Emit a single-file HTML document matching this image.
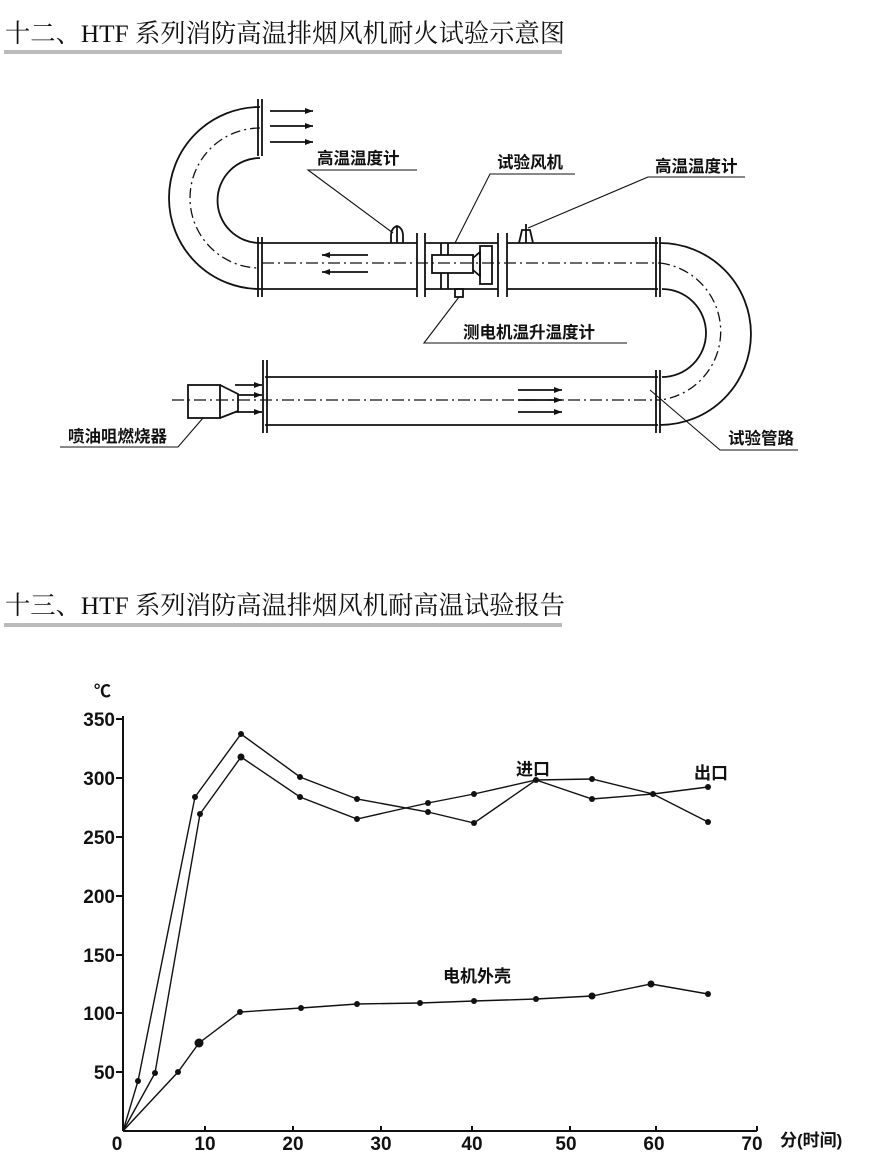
<!DOCTYPE html>
<html><head><meta charset="utf-8"><style>
html,body{margin:0;padding:0;background:#fff;}
body{width:878px;height:1175px;position:relative;overflow:hidden;}
svg{position:absolute;left:0;top:0;}
.t{font-family:"Liberation Serif","Noto Serif CJK SC",serif;font-size:25.3px;fill:#111;}
.c{font-family:"Liberation Sans","Noto Sans CJK SC",sans-serif;font-size:16.5px;font-weight:bold;fill:#111;}
.n{font-family:"Liberation Sans","Noto Sans CJK SC",sans-serif;font-size:19px;font-weight:bold;fill:#111;}
</style></head><body>
<svg width="878" height="1175" viewBox="0 0 878 1175" xmlns="http://www.w3.org/2000/svg">
<defs><marker id="ah" markerWidth="8" markerHeight="6" refX="8" refY="3" orient="auto" markerUnits="userSpaceOnUse"><path d="M0,0 L8,3 L0,6 z" fill="#111"/></marker></defs>
<text class="t" x="5" y="42">十二、HTF 系列消防高温排烟风机耐火试验示意图</text>
<rect x="4" y="50" width="558" height="4" fill="#bbb"/>
<text class="t" x="5" y="614">十三、HTF 系列消防高温排烟风机耐高温试验报告</text>
<rect x="4" y="623" width="558" height="4" fill="#bbb"/>

<g stroke="#111" stroke-width="1.8" fill="none">
<path d="M260,107 A91,91 0 0 0 260,289"/>
<path d="M260,158 A42,42 0 0 0 260,243"/>
<path d="M260,128 A70,70 0 0 0 260,268" stroke-dasharray="10,4,2,4" stroke-width="1.3"/>
<line x1="258" y1="99" x2="258" y2="156"/><line x1="262" y1="99" x2="262" y2="156"/>
<line x1="260" y1="243" x2="417" y2="243"/><line x1="260" y1="289" x2="417" y2="289"/>
<line x1="258" y1="237" x2="258" y2="297"/><line x1="262" y1="237" x2="262" y2="297"/>
<line x1="417" y1="233" x2="417" y2="297"/><line x1="425" y1="233" x2="425" y2="297"/>
<line x1="425" y1="243" x2="498" y2="243"/><line x1="425" y1="289" x2="498" y2="289"/>
<line x1="498" y1="233" x2="498" y2="297"/><line x1="507" y1="233" x2="507" y2="297"/>
<line x1="507" y1="243" x2="658" y2="243"/><line x1="507" y1="289" x2="658" y2="289"/>
<line x1="656" y1="237" x2="656" y2="297"/><line x1="660" y1="237" x2="660" y2="297"/>
<line x1="441" y1="243" x2="441" y2="289"/><line x1="448" y1="243" x2="448" y2="289"/>
<rect x="432" y="255" width="41" height="18" fill="#fff"/>
<path d="M473,258 L480,252 L480,276 L473,270"/>
<rect x="480" y="246" width="12" height="38"/>
<rect x="455" y="289" width="8" height="8"/>
<path d="M391,243 L391,236 Q391,228 397,226 Q403,228 403,236 L403,243"/>
<line x1="397" y1="226" x2="397" y2="243"/>
<path d="M519,243 L522,230 L530,230 L533,243"/>
<line x1="526" y1="224" x2="526" y2="243"/>
<path d="M660,243 A91,91 0 0 1 660,425"/>
<path d="M662,289 A44,44 0 0 1 662,377"/>
<path d="M660,263 A69,69 0 0 1 660,400" stroke-dasharray="10,4,2,4" stroke-width="1.3"/>
<line x1="265" y1="377" x2="658" y2="377"/><line x1="265" y1="425" x2="658" y2="425"/>
<line x1="263" y1="360" x2="263" y2="433"/><line x1="267" y1="360" x2="267" y2="433"/>
<line x1="656" y1="370" x2="656" y2="433"/><line x1="660" y1="370" x2="660" y2="433"/>
<rect x="188" y="385" width="32" height="33"/>
<path d="M220,385 L238,394 L238,411 L220,418"/>
</g>
<g stroke="#111" stroke-width="1.3" stroke-dasharray="12,4,2,4" fill="none">
<line x1="262" y1="263" x2="660" y2="263"/>
<line x1="172" y1="400" x2="660" y2="400"/>
</g>
<g stroke="#111" stroke-width="1.8" marker-end="url(#ah)">
<line x1="270" y1="111" x2="313" y2="111"/><line x1="270" y1="126" x2="313" y2="126"/><line x1="270" y1="142" x2="313" y2="142"/>
<line x1="368" y1="255" x2="322" y2="255"/><line x1="368" y1="272" x2="322" y2="272"/>
<line x1="518" y1="390" x2="562" y2="390"/><line x1="518" y1="400" x2="562" y2="400"/><line x1="518" y1="412" x2="562" y2="412"/>
<line x1="235" y1="385" x2="262" y2="385"/><line x1="238" y1="395" x2="262" y2="395"/><line x1="235" y1="412" x2="262" y2="412"/>
</g>
<g stroke="#111" stroke-width="1.1" fill="none">
<polyline points="417,170 308,170 393,233"/>
<polyline points="575,174 490,174 455,243"/>
<polyline points="745,177 648,177 528,228"/>
<polyline points="627,343 424,343 459,297"/>
<polyline points="60,447 178,447 203,418"/>
<polyline points="798,450 720,450 650,390"/>
</g>
<g class="c">
<text x="317" y="164">高温温度计</text>
<text x="497" y="168">试验风机</text>
<text x="655" y="172">高温温度计</text>
<text x="463" y="338">测电机温升温度计</text>
<text x="68" y="442">喷油咀燃烧器</text>
<text x="728" y="444">试验管路</text>
</g>

<g stroke="#111" stroke-width="2" fill="none">
<line x1="123" y1="716" x2="123" y2="1131"/>
<line x1="123" y1="1131" x2="757" y2="1131"/>
<line x1="116" y1="719" x2="123" y2="719"/><line x1="116" y1="778" x2="123" y2="778"/><line x1="116" y1="837" x2="123" y2="837"/><line x1="116" y1="896" x2="123" y2="896"/><line x1="116" y1="955" x2="123" y2="955"/><line x1="116" y1="1013" x2="123" y2="1013"/><line x1="116" y1="1072" x2="123" y2="1072"/>
<line x1="205" y1="1131" x2="205" y2="1126"/><line x1="293" y1="1131" x2="293" y2="1126"/><line x1="381" y1="1131" x2="381" y2="1126"/><line x1="472" y1="1131" x2="472" y2="1126"/><line x1="570" y1="1131" x2="570" y2="1126"/><line x1="656" y1="1131" x2="656" y2="1126"/><line x1="757" y1="1131" x2="757" y2="1126"/>
</g>
<g stroke="#111" stroke-width="1.4" fill="none">
<polyline points="123,1131 138,1081 195,797 241,734 300,777 357,799 428,812 474,823 536,780 592,799 653,794 708,787"/>
<polyline points="123,1131 155,1073 200,814 241,757 300,797 357,819 428,803 474,794 536,780 592,779 653,794 708,822"/>
<polyline points="123,1131 178,1072 199,1043 240,1012 301,1008 357,1004 420,1003 474,1001 536,999 592,996 651,984 708,994"/>
</g>
<g fill="#111">
<circle cx="138" cy="1081" r="3"/><circle cx="195" cy="797" r="3"/><circle cx="241" cy="734" r="3"/><circle cx="300" cy="777" r="3"/><circle cx="357" cy="799" r="3"/><circle cx="428" cy="812" r="3"/><circle cx="474" cy="823" r="3"/><circle cx="536" cy="780" r="3"/><circle cx="592" cy="799" r="3"/><circle cx="653" cy="794" r="3"/><circle cx="708" cy="787" r="3"/>
<circle cx="155" cy="1073" r="3"/><circle cx="200" cy="814" r="3"/><circle cx="241" cy="757" r="3.5"/><circle cx="300" cy="797" r="3"/><circle cx="357" cy="819" r="3"/><circle cx="428" cy="803" r="3"/><circle cx="474" cy="794" r="3"/><circle cx="592" cy="779" r="3"/><circle cx="708" cy="822" r="3"/>
<circle cx="178" cy="1072" r="3"/><circle cx="199" cy="1043" r="4.5"/><circle cx="240" cy="1012" r="3"/><circle cx="301" cy="1008" r="3"/><circle cx="357" cy="1004" r="3"/><circle cx="420" cy="1003" r="3"/><circle cx="474" cy="1001" r="3"/><circle cx="536" cy="999" r="3"/><circle cx="592" cy="996" r="3.5"/><circle cx="651" cy="984" r="3.5"/><circle cx="708" cy="994" r="3"/>
</g>
<g class="n" text-anchor="end">
<text x="115" y="726">350</text><text x="115" y="785">300</text><text x="115" y="844">250</text><text x="115" y="903">200</text><text x="115" y="962">150</text><text x="115" y="1020">100</text><text x="115" y="1079">50</text>
</g>
<g class="n" text-anchor="middle">
<text x="117" y="1150">0</text><text x="205" y="1150">10</text><text x="293" y="1150">20</text><text x="381" y="1150">30</text><text x="472" y="1150">40</text><text x="566" y="1150">50</text><text x="654" y="1150">60</text><text x="752" y="1150">70</text>
</g>
<text class="c" x="94" y="697" style="font-size:17px">℃</text>
<text class="c" x="780" y="1146" style="font-size:17px">分(时间)</text>
<text class="c" x="516" y="775" style="font-size:17px">进口</text>
<text class="c" x="694" y="779" style="font-size:17px">出口</text>
<text class="c" x="443" y="982" style="font-size:17px">电机外壳</text>
</svg>
</body></html>
